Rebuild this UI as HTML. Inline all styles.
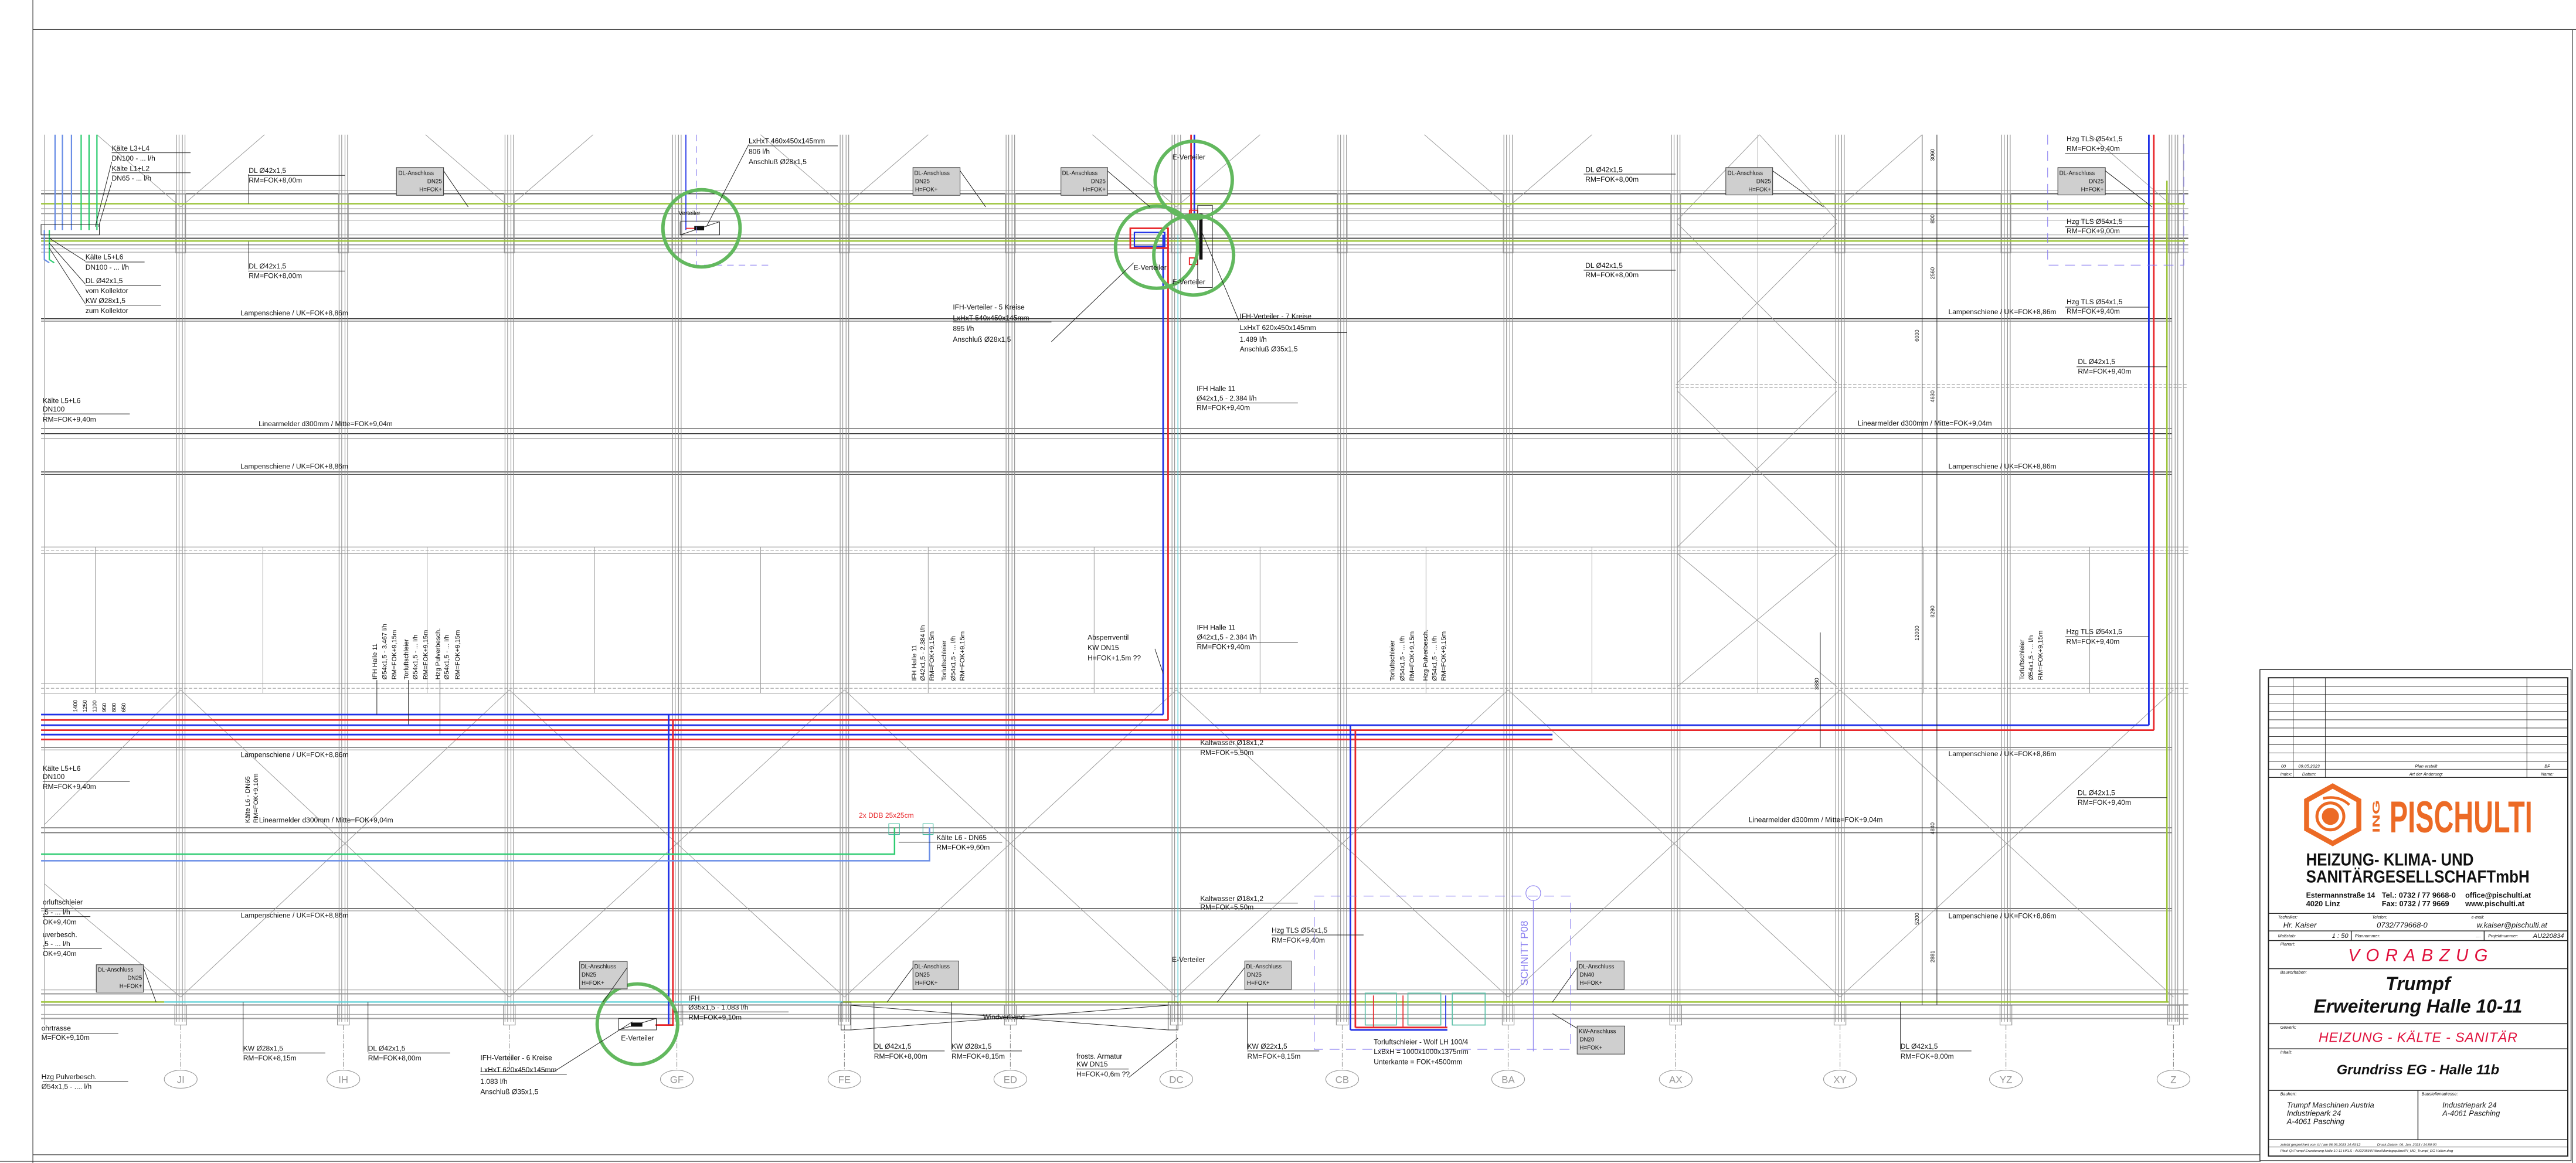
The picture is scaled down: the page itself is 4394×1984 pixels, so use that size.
<!DOCTYPE html>
<html><head><meta charset="utf-8">
<style>
html,body{margin:0;padding:0;background:#fff;width:4394px;height:1984px;overflow:hidden}
svg{display:block}
text{font-family:"Liberation Sans",Arial,sans-serif;fill:#111}
.t{font-size:4.3px}
.s{font-size:3.6px}
.ti{font-size:2.6px;font-style:italic}
.g{stroke:#a3a3a3;stroke-width:0.4;fill:none}
.k{stroke:#222;stroke-width:0.35;fill:none}
.d{stroke:#9a9a9a;stroke-width:0.35;fill:none}
.box{fill:#cfcfcf;stroke:#333;stroke-width:0.35}
</style></head><body>
<svg width="4394" height="1984" viewBox="0 0 1568 708" preserveAspectRatio="none" xmlns="http://www.w3.org/2000/svg">
<defs>
<g id="col" stroke="#8f8f8f" stroke-width="0.4" fill="none">
<line x1="-2.6" y1="82" x2="-2.6" y2="622"/><line x1="-1" y1="82" x2="-1" y2="622"/>
<line x1="1" y1="82" x2="1" y2="622"/><line x1="2.6" y1="82" x2="2.6" y2="622"/>
<rect x="-3.6" y="612" width="7.2" height="12"/>
<rect x="-3" y="118" width="6" height="36"/>
<line x1="0" y1="624" x2="0" y2="651" stroke-dasharray="3 1 0.6 1"/>
</g>
</defs>
<rect x="0" y="0" width="1568" height="708" fill="#fff"/>
<line x1="20" y1="0" x2="20" y2="708" stroke="#333" stroke-width="0.4"/>
<line x1="20" y1="18" x2="1568" y2="18" stroke="#333" stroke-width="0.4"/>
<line x1="20" y1="703" x2="1376" y2="703" stroke="#333" stroke-width="0.4"/>
<line x1="0" y1="707" x2="1376" y2="707" stroke="#333" stroke-width="0.3"/>
<line x1="1566" y1="18" x2="1566" y2="708" stroke="#333" stroke-width="0.4"/>

<g class="g">
<line x1="25" y1="116" x2="1332" y2="116"/><line x1="25" y1="127" x2="1332" y2="127"/>
<line x1="25" y1="130" x2="1332" y2="130" stroke-width="0.8"/><line x1="25" y1="134" x2="1332" y2="134"/>
<line x1="25" y1="143" x2="1332" y2="143"/><line x1="25" y1="149" x2="1332" y2="149" stroke-width="0.8"/>
<line x1="25" y1="151.5" x2="1332" y2="151.5"/><line x1="25" y1="153.5" x2="1332" y2="153.5"/>
<line x1="25" y1="333" x2="1332" y2="333"/><line x1="25" y1="335" x2="1332" y2="335" stroke-dasharray="2 1"/><line x1="25" y1="337" x2="1332" y2="337"/>
<line x1="25" y1="416" x2="1332" y2="416"/><line x1="25" y1="419" x2="1332" y2="419" stroke-dasharray="2 1"/><line x1="25" y1="422" x2="1332" y2="422"/>
<line x1="25" y1="602.6" x2="1332" y2="602.6"/><line x1="25" y1="605" x2="1332" y2="605" stroke-width="0.8"/>
<line x1="25" y1="617.5" x2="1332" y2="617.5"/><line x1="25" y1="620" x2="1332" y2="620" stroke-width="0.8"/>
<line x1="1020" y1="234" x2="1332" y2="234" stroke-dasharray="2 1"/><line x1="1020" y1="236" x2="1332" y2="236" stroke-dasharray="2 1"/>
</g>
<g class="d">
<line x1="58" y1="333" x2="58" y2="422"/><line x1="160" y1="333" x2="160" y2="422"/><line x1="260" y1="333" x2="260" y2="422"/><line x1="362" y1="333" x2="362" y2="422"/>
<line x1="463" y1="333" x2="463" y2="422"/><line x1="565" y1="333" x2="565" y2="422"/><line x1="666" y1="333" x2="666" y2="422"/><line x1="767" y1="333" x2="767" y2="422"/>
<line x1="868" y1="333" x2="868" y2="422"/><line x1="969" y1="333" x2="969" y2="422"/><line x1="1070" y1="82" x2="1070" y2="422"/><line x1="1171" y1="333" x2="1171" y2="422"/><line x1="1272" y1="333" x2="1272" y2="422"/>
</g>
<g class="k">
<line x1="25" y1="118" x2="1332" y2="118" stroke-width="0.5"/>
<line x1="25" y1="145" x2="1332" y2="145" stroke-width="0.5"/>
<line x1="25" y1="194" x2="1322" y2="194" stroke-width="0.5"/><line x1="25" y1="195.5" x2="1322" y2="195.5"/>
<line x1="25" y1="261" x2="1322" y2="261"/><line x1="25" y1="264" x2="1322" y2="264" stroke-width="0.5"/><line x1="25" y1="267" x2="1322" y2="267" stroke="#888"/>
<line x1="25" y1="287.3" x2="1322" y2="287.3" stroke-width="0.5"/><line x1="25" y1="288.8" x2="1322" y2="288.8"/>
<line x1="25" y1="455" x2="1322" y2="455"/><line x1="25" y1="456.5" x2="1322" y2="456.5" stroke="#888"/>
<line x1="25" y1="504" x2="1322" y2="504" stroke-width="0.5"/><line x1="25" y1="507" x2="1322" y2="507"/>
<line x1="25" y1="553" x2="1322" y2="553"/><line x1="25" y1="554.5" x2="1322" y2="554.5" stroke="#888"/>
<line x1="25" y1="611.8" x2="1332" y2="611.8" stroke-width="0.5"/>
</g>

<use href="#col" x="110"/><use href="#col" x="209"/><use href="#col" x="310"/><use href="#col" x="412"/>
<use href="#col" x="514"/><use href="#col" x="615"/><use href="#col" x="716"/><use href="#col" x="817"/>
<use href="#col" x="918"/><use href="#col" x="1020"/><use href="#col" x="1120"/><use href="#col" x="1221"/><use href="#col" x="1323"/>
<line x1="1329" y1="82" x2="1329" y2="624" class="g"/><line x1="27" y1="82" x2="27" y2="624" class="g"/>

<g class="d">
<line x1="110" y1="420" x2="310" y2="607"/><line x1="310" y1="420" x2="110" y2="607"/>
<line x1="310" y1="420" x2="514" y2="607"/><line x1="514" y1="420" x2="310" y2="607"/>
<line x1="514" y1="420" x2="716" y2="607"/><line x1="716" y1="420" x2="514" y2="607"/>
<line x1="716" y1="420" x2="918" y2="607"/><line x1="918" y1="420" x2="716" y2="607"/>
<line x1="918" y1="420" x2="1120" y2="607"/><line x1="1120" y1="420" x2="918" y2="607"/>
<line x1="1120" y1="420" x2="1323" y2="607"/><line x1="1323" y1="420" x2="1120" y2="607"/>
<line x1="110" y1="420" x2="27" y2="502"/><line x1="110" y1="607" x2="27" y2="538"/>
<line x1="59" y1="82" x2="110" y2="126"/><line x1="161" y1="82" x2="110" y2="126"/>
<line x1="259" y1="82" x2="310" y2="126"/><line x1="361" y1="82" x2="310" y2="126"/>
<line x1="463" y1="82" x2="514" y2="126"/><line x1="565" y1="82" x2="514" y2="126"/>
<line x1="665" y1="82" x2="716" y2="126"/><line x1="767" y1="82" x2="716" y2="126"/>
<line x1="867" y1="82" x2="918" y2="126"/><line x1="969" y1="82" x2="918" y2="126"/>
<line x1="1170" y1="82" x2="1120" y2="126"/><line x1="1272" y1="82" x2="1323" y2="126"/>
<line x1="1071" y1="82" x2="1021" y2="134"/><line x1="1071" y1="82" x2="1118" y2="134"/>
<line x1="1021" y1="136" x2="1118" y2="233"/><line x1="1118" y1="136" x2="1021" y2="233"/>
<line x1="1021" y1="238" x2="1118" y2="333"/><line x1="1118" y1="238" x2="1021" y2="333"/>
<line x1="1021" y1="337" x2="1118" y2="418"/><line x1="1118" y1="337" x2="1021" y2="418"/>
</g>

<g stroke="#9cc43a" stroke-width="0.9" fill="none">
<line x1="25" y1="124" x2="1330" y2="124"/>
<line x1="25" y1="146.7" x2="1330" y2="146.7"/>
<line x1="25" y1="610" x2="100" y2="610"/>
<line x1="513" y1="610" x2="1320" y2="610"/>
<line x1="1319" y1="110" x2="1319" y2="610"/>
</g>
<line x1="100" y1="610" x2="513" y2="610" stroke="#5ccfd6" stroke-width="0.8"/>
<line x1="717" y1="143" x2="717" y2="610" stroke="#5ccfd6" stroke-width="0.5"/>

<g stroke-width="0.8" fill="none">
<line x1="33.5" y1="82" x2="33.5" y2="140" stroke="#6a8ee6"/><line x1="38" y1="82" x2="38" y2="140" stroke="#6a8ee6"/><line x1="43.5" y1="82" x2="43.5" y2="140" stroke="#6a8ee6"/>
<line x1="49.4" y1="82" x2="49.4" y2="140" stroke="#2ecc71"/><line x1="54.2" y1="82" x2="54.2" y2="140" stroke="#2ecc71"/><line x1="59" y1="82" x2="59" y2="140" stroke="#2ecc71"/>
<path d="M27 140 L27 158 L30 160" stroke="#6a8ee6"/><path d="M30 140 L30 158 L33 160" stroke="#2ecc71"/>
</g>
<rect x="25" y="136.7" width="35.5" height="6.3" class="k"/>

<g fill="none" stroke-width="1">
<line x1="25" y1="435" x2="708" y2="435" stroke="#1e2fe6"/>
<line x1="25" y1="438.3" x2="711" y2="438.3" stroke="#e8262a"/>
<line x1="25" y1="441.5" x2="1308" y2="441.5" stroke="#1e2fe6"/>
<line x1="25" y1="444.5" x2="1311" y2="444.5" stroke="#e8262a"/>
<line x1="25" y1="447.2" x2="945" y2="447.2" stroke="#1e2fe6"/>
<line x1="25" y1="450.2" x2="945" y2="450.2" stroke="#e8262a"/>
<line x1="708" y1="143" x2="708" y2="435" stroke="#1e2fe6"/>
<line x1="711" y1="146" x2="711" y2="438.3" stroke="#e8262a"/>
<line x1="727" y1="82" x2="727" y2="130" stroke="#1e2fe6"/>
<line x1="725" y1="82" x2="725" y2="130" stroke="#e8262a"/>
<line x1="1308" y1="82" x2="1308" y2="441.5" stroke="#1e2fe6"/>
<line x1="1311" y1="82" x2="1311" y2="444.5" stroke="#e8262a"/>
<line x1="407" y1="435" x2="407" y2="624" stroke="#1e2fe6"/>
<line x1="409.6" y1="438.3" x2="409.6" y2="624.5" stroke="#e8262a"/>
<line x1="399" y1="624" x2="409.6" y2="624" stroke="#e8262a"/>
<line x1="822" y1="441.5" x2="822" y2="627" stroke="#1e2fe6"/>
<line x1="825" y1="444.5" x2="825" y2="625.5" stroke="#e8262a"/>
<line x1="822" y1="627" x2="881" y2="627" stroke="#1e2fe6"/>
<line x1="825" y1="625.5" x2="881" y2="625.5" stroke="#e8262a"/>
</g>
<rect x="688" y="139" width="23" height="12" fill="none" stroke="#e8262a" stroke-width="1"/>
<rect x="690.5" y="141.5" width="18.5" height="8.5" fill="none" stroke="#1e2fe6" stroke-width="0.8"/>
<rect x="730" y="130" width="2" height="28" fill="#111"/>
<rect x="724" y="128" width="5" height="4" fill="none" stroke="#e8262a" stroke-width="0.7"/>
<rect x="724" y="157" width="5" height="4" fill="none" stroke="#e8262a" stroke-width="0.7"/>
<rect x="729" y="125" width="9" height="50" class="k"/>
<line x1="417.5" y1="82" x2="417.5" y2="140" stroke="#1e2fe6" stroke-width="0.6"/>
<line x1="417.5" y1="139" x2="423" y2="139" stroke="#e8262a" stroke-width="0.6"/>
<rect x="414" y="135" width="24" height="8" class="k"/>
<line x1="414" y1="143" x2="438" y2="135" class="k"/>
<rect x="422.6" y="137.6" width="6" height="2.6" fill="#111"/>
<path d="M424 82 L424 161.4 L470 161.4" fill="none" stroke="#8a7ff0" stroke-width="0.4" stroke-dasharray="4 3"/>
<rect x="376.5" y="620" width="23" height="7" class="k"/>
<line x1="376.5" y1="627" x2="399.5" y2="620" class="k"/>
<rect x="384" y="622.5" width="7" height="2.5" fill="#111"/>
<g fill="none" stroke-width="0.9">
<path d="M25 520 L544.5 520 L544.5 503.6" stroke="#2ecc71"/>
<path d="M25 524 L565.8 524 L565.8 503.6" stroke="#6a8ee6"/>
</g>
<rect x="541" y="501.5" width="6.5" height="6.5" fill="none" stroke="#3cb89a" stroke-width="0.4"/>
<rect x="561.8" y="501.5" width="6.2" height="6.5" fill="none" stroke="#3cb89a" stroke-width="0.4"/>
<g fill="none" stroke="#5cc0a8" stroke-width="0.6">
<rect x="831" y="604.6" width="19" height="19.4"/><rect x="857" y="604.6" width="20" height="19.4"/><rect x="884" y="604.6" width="20" height="19.4"/>
</g>
<g stroke-width="0.6"><line x1="836" y1="606" x2="836" y2="625" stroke="#e8262a"/><line x1="854" y1="606" x2="854" y2="625" stroke="#e8262a"/><line x1="880" y1="606" x2="880" y2="625" stroke="#1e2fe6"/></g>
<rect x="800" y="545.5" width="156" height="93.3" fill="none" stroke="#8a7ff0" stroke-width="0.4" stroke-dasharray="6 4"/>
<circle cx="933.3" cy="543.7" r="4.5" fill="none" stroke="#8a7ff0" stroke-width="0.4"/>
<line x1="933.3" y1="548" x2="933.3" y2="640" stroke="#8a7ff0" stroke-width="0.4"/>
<text transform="translate(930,600) rotate(-90)" style="font-size:6.2px;fill:#8a7ff0">SCHNITT P08</text>
<path d="M1246.4 82 L1246.4 161.4 L1329.3 161.4 L1329.3 82" fill="none" stroke="#8a7ff0" stroke-width="0.4" stroke-dasharray="6 4"/>

<g class="k"><rect x="512" y="610" width="6" height="17"/><rect x="711" y="610" width="6" height="17"/>
<line x1="518" y1="612" x2="711" y2="627"/><line x1="518" y1="627" x2="711" y2="612"/></g>

<g class="k" stroke-width="0.3">
<line x1="1170" y1="82" x2="1170" y2="612"/><line x1="1179" y1="82" x2="1179" y2="612"/>
<line x1="1108" y1="385" x2="1108" y2="455"/>
</g>
<g class="s" style="font-size:3.3px">
<text transform="translate(1177.5,98) rotate(-90)">3060</text>
<text transform="translate(1177.5,136) rotate(-90)">800</text>
<text transform="translate(1177.5,170) rotate(-90)">2560</text>
<text transform="translate(1168,208) rotate(-90)">6000</text>
<text transform="translate(1177.5,245) rotate(-90)">4630</text>
<text transform="translate(1177.5,376) rotate(-90)">8290</text>
<text transform="translate(1168,390) rotate(-90)">12000</text>
<text transform="translate(1107,420) rotate(-90)">3880</text>
<text transform="translate(1177.5,508) rotate(-90)">4840</text>
<text transform="translate(1168,563) rotate(-90)">5200</text>
<text transform="translate(1177.5,586) rotate(-90)">2881</text>
<text transform="translate(47,433.5) rotate(-90)">1400</text>
<text transform="translate(52.8,433.5) rotate(-90)">1250</text>
<text transform="translate(58.7,433.5) rotate(-90)">1100</text>
<text transform="translate(64.6,433.5) rotate(-90)">950</text>
<text transform="translate(70.5,433.5) rotate(-90)">800</text>
<text transform="translate(76.4,433.5) rotate(-90)">650</text>
</g>

<g fill="none" stroke="#62b85e" stroke-width="2.1">
<circle cx="427" cy="139" r="23.5"/>
<circle cx="726.6" cy="109.5" r="23.5"/>
<circle cx="704" cy="150.5" r="25"/>
<circle cx="726.6" cy="155.3" r="24.3"/>
<circle cx="388" cy="623.5" r="24.5"/>
</g>

<g>
<rect x="241.3" y="102" width="28.7" height="16.9" class="box"/>
<rect x="555.7" y="102" width="28.7" height="16.9" class="box"/>
<rect x="645.8" y="102" width="28.4" height="16.9" class="box"/>
<rect x="1050.5" y="102" width="28.5" height="16.7" class="box"/>
<rect x="1252.6" y="102" width="28.9" height="16.7" class="box"/>
<rect x="58.6" y="587.3" width="28.7" height="16.7" class="box"/>
<rect x="352.8" y="585.3" width="29" height="16.7" class="box"/>
<rect x="555.7" y="585" width="27.8" height="17.4" class="box"/>
<rect x="757.7" y="585" width="28.3" height="17.4" class="box"/>
<rect x="960" y="585" width="28.6" height="17.4" class="box"/>
<rect x="960" y="624.6" width="29" height="17.1" class="box"/>
</g>
<g class="s" style="font-size:3.5px">
<text x="242.5" y="106.5">DL-Anschluss</text><text x="269" y="111.5" text-anchor="end">DN25</text><text x="269" y="116.5" text-anchor="end">H=FOK+</text>
<text x="556.5" y="106.5">DL-Anschluss</text><text x="557" y="111.5">DN25</text><text x="557" y="116.5">H=FOK+</text>
<text x="646.5" y="106.5">DL-Anschluss</text><text x="673" y="111.5" text-anchor="end">DN25</text><text x="673" y="116.5" text-anchor="end">H=FOK+</text>
<text x="1051.5" y="106.5">DL-Anschluss</text><text x="1078" y="111.5" text-anchor="end">DN25</text><text x="1078" y="116.5" text-anchor="end">H=FOK+</text>
<text x="1253.5" y="106.5">DL-Anschluss</text><text x="1280.5" y="111.5" text-anchor="end">DN25</text><text x="1280.5" y="116.5" text-anchor="end">H=FOK+</text>
<text x="59.5" y="591.5">DL-Anschluss</text><text x="86.5" y="596.5" text-anchor="end">DN25</text><text x="86.5" y="601.5" text-anchor="end">H=FOK+</text>
<text x="353.5" y="589.5">DL-Anschluss</text><text x="354" y="594.5">DN25</text><text x="354" y="599.5">H=FOK+</text>
<text x="556.5" y="589.5">DL-Anschluss</text><text x="557" y="594.5">DN25</text><text x="557" y="599.5">H=FOK+</text>
<text x="758.5" y="589.5">DL-Anschluss</text><text x="759" y="594.5">DN25</text><text x="759" y="599.5">H=FOK+</text>
<text x="961" y="589.5">DL-Anschluss</text><text x="961.5" y="594.5">DN40</text><text x="961.5" y="599.5">H=FOK+</text>
<text x="961" y="629">KW-Anschluss</text><text x="961.5" y="634">DN20</text><text x="961.5" y="639">H=FOK+</text>
</g>
<g class="k" stroke-width="0.3">
<line x1="270" y1="104" x2="285" y2="126"/><line x1="584.4" y1="104" x2="600" y2="126"/><line x1="674" y1="104" x2="700" y2="126"/>
<line x1="1079" y1="104" x2="1110" y2="126"/><line x1="1281.5" y1="104" x2="1310" y2="126"/>
<line x1="87.3" y1="589" x2="95" y2="610"/><line x1="381.8" y1="589" x2="367" y2="610"/><line x1="555.7" y1="589" x2="540" y2="610"/>
<line x1="757.7" y1="589" x2="741" y2="610"/><line x1="960" y1="589" x2="945" y2="610"/><line x1="960" y1="626" x2="945" y2="617"/>
<line x1="68" y1="98.5" x2="58" y2="138"/><line x1="68" y1="111" x2="60" y2="138"/>
<line x1="52" y1="159" x2="30" y2="145"/><line x1="52" y1="173" x2="30" y2="148"/><line x1="52" y1="185" x2="30" y2="151"/>
<line x1="151.4" y1="106" x2="151.4" y2="124"/><line x1="151.4" y1="164" x2="151.4" y2="147"/>
<line x1="455.7" y1="88" x2="430" y2="138"/><line x1="754" y1="195" x2="731" y2="140"/><line x1="640" y1="208" x2="690" y2="160"/>
<line x1="419" y1="616" x2="410" y2="616"/><line x1="292.4" y1="652.5" x2="337" y2="652.5"/><line x1="337" y1="652.5" x2="385" y2="622"/>
<line x1="148" y1="640.5" x2="148" y2="610"/><line x1="224" y1="640.5" x2="224" y2="610"/><line x1="532" y1="639" x2="532" y2="610"/>
<line x1="579.2" y1="639" x2="579.2" y2="610"/><line x1="759.2" y1="639" x2="759.2" y2="610"/><line x1="1156.8" y1="639" x2="1156.8" y2="610"/>
<line x1="687" y1="656" x2="717" y2="632"/><line x1="703" y1="395" x2="708" y2="410"/>
<line x1="229.4" y1="414" x2="229.4" y2="435"/><line x1="248.6" y1="414" x2="248.6" y2="441"/><line x1="267.8" y1="414" x2="267.8" y2="447"/>
</g>
<g class="k" stroke-width="0.3">
<line x1="68" y1="93" x2="116" y2="93"/><line x1="68" y1="105.2" x2="116" y2="105.2"/>
<line x1="151" y1="106.8" x2="210" y2="106.8"/><line x1="151" y1="165" x2="210" y2="165"/>
<line x1="964" y1="106" x2="1020" y2="106"/><line x1="964" y1="164.5" x2="1020" y2="164.5"/>
<line x1="52" y1="159.5" x2="88" y2="159.5"/><line x1="52" y1="173.8" x2="98" y2="173.8"/><line x1="52" y1="185.8" x2="98" y2="185.8"/>
<line x1="26" y1="252" x2="79" y2="252"/><line x1="26" y1="475.7" x2="79" y2="475.7"/>
<line x1="754" y1="202.5" x2="820" y2="202.5"/><line x1="580" y1="196" x2="640" y2="196"/><line x1="455.7" y1="88.8" x2="510" y2="88.8"/>
<line x1="728" y1="245.3" x2="790" y2="245.3"/><line x1="728" y1="391" x2="790" y2="391"/>
<line x1="730" y1="455" x2="790" y2="455"/><line x1="730" y1="549.8" x2="790" y2="549.8"/>
<line x1="774" y1="569.2" x2="830" y2="569.2"/><line x1="570" y1="512.7" x2="610" y2="512.7"/><line x1="547" y1="512.7" x2="570" y2="512.7"/>
<line x1="419" y1="616" x2="480" y2="616"/><line x1="292.4" y1="654" x2="345" y2="654"/>
<line x1="148" y1="641" x2="198" y2="641"/><line x1="224" y1="641" x2="274" y2="641"/><line x1="532" y1="639.8" x2="575" y2="639.8"/>
<line x1="579.2" y1="639.8" x2="622" y2="639.8"/><line x1="759.2" y1="639.8" x2="803" y2="639.8"/><line x1="1156.8" y1="639.8" x2="1200" y2="639.8"/>
<line x1="655" y1="650.8" x2="687" y2="650.8"/>
<line x1="1257" y1="93.5" x2="1308" y2="93.5"/><line x1="1257" y1="138" x2="1308" y2="138"/><line x1="1257" y1="187" x2="1308" y2="187"/>
<line x1="1264" y1="223.3" x2="1319" y2="223.3"/><line x1="1257" y1="387.6" x2="1308" y2="387.6"/><line x1="1264" y1="485.6" x2="1319" y2="485.6"/>
<line x1="26" y1="629" x2="72" y2="629"/><line x1="26" y1="658.5" x2="78" y2="658.5"/>
<line x1="26" y1="558" x2="55" y2="558"/><line x1="26" y1="577.5" x2="62" y2="577.5"/>
</g>

<g class="t">
<text x="68" y="91.7">Kälte L3+L4</text><text x="68" y="97.8">DN100 - ... l/h</text>
<text x="68" y="104">Kälte L1+L2</text><text x="68" y="110">DN65 - ... l/h</text>
<text x="151.4" y="105.3">DL Ø42x1,5</text><text x="151.4" y="111.2">RM=FOK+8,00m</text>
<text x="52" y="158">Kälte L5+L6</text><text x="52" y="164.2">DN100 - ... l/h</text>
<text x="52" y="172.4">DL Ø42x1,5</text><text x="52" y="178.5">vom Kollektor</text>
<text x="52" y="184.5">KW Ø28x1,5</text><text x="52" y="190.6">zum Kollektor</text>
<text x="151.4" y="163.5">DL Ø42x1,5</text><text x="151.4" y="169.4">RM=FOK+8,00m</text>
<text x="146.3" y="192">Lampenschiene / UK=FOK+8,86m</text>
<text x="26" y="245.4">Kälte L5+L6</text><text x="26" y="250.5">DN100</text><text x="26" y="256.7">RM=FOK+9,40m</text>
<text x="157.4" y="259.5">Linearmelder d300mm / Mitte=FOK+9,04m</text>
<text x="146.3" y="285.3">Lampenschiene / UK=FOK+8,86m</text>
<text x="455.7" y="87.3">LxHxT 460x450x145mm</text><text x="455.7" y="93.7">806 l/h</text><text x="455.7" y="100">Anschluß Ø28x1,5</text>
<text x="413" y="131" class="s">Verteiler</text>
<text x="580" y="188.5">IFH-Verteiler - 5 Kreise</text><text x="580" y="195">LxHxT 540x450x145mm</text><text x="580" y="201.5">895 l/h</text><text x="580" y="208">Anschluß Ø28x1,5</text>
<text x="713.6" y="97">E-Verteiler</text><text x="690" y="164.4">E-Verteiler</text><text x="713.6" y="173">E-Verteiler</text>
<text x="754.6" y="194">IFH-Verteiler - 7 Kreise</text><text x="754.6" y="201">LxHxT 620x450x145mm</text><text x="754.6" y="208">1.489 l/h</text><text x="754.6" y="214">Anschluß Ø35x1,5</text>
<text x="728.4" y="238">IFH Halle 11</text><text x="728.4" y="243.9">Ø42x1,5 - 2.384 l/h</text><text x="728.4" y="249.6">RM=FOK+9,40m</text>
<text x="965" y="104.7">DL Ø42x1,5</text><text x="965" y="110.6">RM=FOK+8,00m</text>
<text x="965" y="163">DL Ø42x1,5</text><text x="965" y="168.8">RM=FOK+8,00m</text>
<text x="1257.9" y="86">Hzg TLS Ø54x1,5</text><text x="1257.9" y="91.9">RM=FOK+9,40m</text>
<text x="1257.9" y="136.3">Hzg TLS Ø54x1,5</text><text x="1257.9" y="142">RM=FOK+9,00m</text>
<text x="1186" y="191.3">Lampenschiene / UK=FOK+8,86m</text>
<text x="1257.9" y="185.2">Hzg TLS Ø54x1,5</text><text x="1257.9" y="190.9">RM=FOK+9,40m</text>
<text x="1264.8" y="221.6">DL Ø42x1,5</text><text x="1264.8" y="227.5">RM=FOK+9,40m</text>
<text x="1130.8" y="259">Linearmelder d300mm / Mitte=FOK+9,04m</text>
<text x="1186" y="285.3">Lampenschiene / UK=FOK+8,86m</text>
<text x="662" y="389.5">Absperrventil</text><text x="662" y="395.8">KW DN15</text><text x="662" y="402">H=FOK+1,5m ??</text>
<text x="728.5" y="383.5">IFH Halle 11</text><text x="728.5" y="389.4">Ø42x1,5 - 2.384 l/h</text><text x="728.5" y="395.3">RM=FOK+9,40m</text>
<text x="1257.7" y="386">Hzg TLS Ø54x1,5</text><text x="1257.7" y="392">RM=FOK+9,40m</text>
<text x="730.6" y="453.6">Kaltwasser Ø18x1,2</text><text x="730.6" y="459.6">RM=FOK+5,50m</text>
<text x="146.5" y="460.9">Lampenschiene / UK=FOK+8,86m</text>
<text x="1186" y="460.4">Lampenschiene / UK=FOK+8,86m</text>
<text x="26" y="469.3">Kälte L5+L6</text><text x="26" y="474.2">DN100</text><text x="26" y="480.4">RM=FOK+9,40m</text>
<text x="1264.7" y="484">DL Ø42x1,5</text><text x="1264.7" y="490">RM=FOK+9,40m</text>
<text x="157.7" y="500.7">Linearmelder d300mm / Mitte=FOK+9,04m</text>
<text x="1064.4" y="500.5">Linearmelder d300mm / Mitte=FOK+9,04m</text>
<text x="522.8" y="497.8" style="fill:#e8262a">2x DDB 25x25cm</text>
<text x="570" y="511.3">Kälte L6 - DN65</text><text x="570" y="517.3">RM=FOK+9,60m</text>
<text x="730.6" y="548.4">Kaltwasser Ø18x1,2</text><text x="730.6" y="553.7">RM=FOK+5,50m</text>
<text x="146.5" y="558.6">Lampenschiene / UK=FOK+8,86m</text>
<text x="1186" y="559">Lampenschiene / UK=FOK+8,86m</text>
<text x="26" y="550.7">orluftschleier</text><text x="26" y="556.7">,5 - ... l/h</text><text x="26" y="562.7">OK+9,40m</text>
<text x="26" y="570.5">uverbesch.</text><text x="26" y="576">,5 - ... l/h</text><text x="26" y="582">OK+9,40m</text>
<text x="774" y="567.7">Hzg TLS Ø54x1,5</text><text x="774" y="573.8">RM=FOK+9,40m</text>
<text x="713.4" y="585.6">E-Verteiler</text>
<text x="419" y="609.2">IFH</text><text x="419" y="614.7">Ø35x1,5 - 1.083 l/h</text><text x="419" y="620.7">RM=FOK+9,10m</text>
<text x="598.5" y="620.6">Windverband</text>
<text x="25.2" y="627.3">ohrtrasse</text><text x="25.2" y="633">M=FOK+9,10m</text>
<text x="378" y="633.5">E-Verteiler</text>
<text x="148" y="639.6">KW Ø28x1,5</text><text x="148" y="645.5">RM=FOK+8,15m</text>
<text x="224" y="639.6">DL Ø42x1,5</text><text x="224" y="645.5">RM=FOK+8,00m</text>
<text x="292.4" y="645.3">IFH-Verteiler - 6 Kreise</text><text x="292.4" y="652.7">LxHxT 620x450x145mm</text><text x="292.4" y="659.8">1.083 l/h</text><text x="292.4" y="666">Anschluß Ø35x1,5</text>
<text x="532" y="638.4">DL Ø42x1,5</text><text x="532" y="644.4">RM=FOK+8,00m</text>
<text x="579.2" y="638.4">KW Ø28x1,5</text><text x="579.2" y="644.4">RM=FOK+8,15m</text>
<text x="655.2" y="644.4">frosts. Armatur</text><text x="655.2" y="649.3">KW DN15</text><text x="655.2" y="655.3">H=FOK+0,6m ??</text>
<text x="759.2" y="638.4">KW Ø22x1,5</text><text x="759.2" y="644.4">RM=FOK+8,15m</text>
<text x="836.2" y="635.7">Torluftschleier - Wolf LH 100/4</text><text x="836.2" y="641.7">LxBxH = 1000x1000x1375mm</text><text x="836.2" y="647.8">Unterkante = FOK+4500mm</text>
<text x="1156.8" y="638.5">DL Ø42x1,5</text><text x="1156.8" y="644.5">RM=FOK+8,00m</text>
<text x="25.2" y="656.9">Hzg Pulverbesch.</text><text x="25.2" y="662.8">Ø54x1,5 - .... l/h</text>
</g>
<g class="t" style="font-size:4px">
<text transform="translate(152,501) rotate(-90)">Kälte L6 - DN65</text>
<text transform="translate(157,501) rotate(-90)">RM=FOK+9,10m</text>
<text transform="translate(229.4,413.7) rotate(-90)">IFH Halle 11</text>
<text transform="translate(235.4,413.7) rotate(-90)">Ø54x1,5 - 3.467 l/h</text>
<text transform="translate(241.2,413.7) rotate(-90)">RM=FOK+9,15m</text>
<text transform="translate(248.6,413.7) rotate(-90)">Torluftschleier</text>
<text transform="translate(254,413.7) rotate(-90)">Ø54x1,5 - ... l/h</text>
<text transform="translate(260.4,413.7) rotate(-90)">RM=FOK+9,15m</text>
<text transform="translate(267.8,413.7) rotate(-90)">Hzg Pulverbesch.</text>
<text transform="translate(273.2,413.7) rotate(-90)">Ø54x1,5 - ... l/h</text>
<text transform="translate(279.7,413.7) rotate(-90)">RM=FOK+9,15m</text>
<text transform="translate(557.7,414.5) rotate(-90)">IFH Halle 11</text>
<text transform="translate(563,414.5) rotate(-90)">Ø42x1,5 - 2.384 l/h</text>
<text transform="translate(568.5,414.5) rotate(-90)">RM=FOK+9,15m</text>
<text transform="translate(576,414.5) rotate(-90)">Torluftschleier</text>
<text transform="translate(581.5,414.5) rotate(-90)">Ø54x1,5 - ... l/h</text>
<text transform="translate(587,414.5) rotate(-90)">RM=FOK+9,15m</text>
<text transform="translate(848.7,414.5) rotate(-90)">Torluftschleier</text>
<text transform="translate(854.8,414.5) rotate(-90)">Ø54x1,5 - ... l/h</text>
<text transform="translate(860.8,414.5) rotate(-90)">RM=FOK+9,15m</text>
<text transform="translate(869,414.5) rotate(-90)">Hzg Pulverbesch.</text>
<text transform="translate(874.5,414.5) rotate(-90)">Ø54x1,5 - ... l/h</text>
<text transform="translate(880,414.5) rotate(-90)">RM=FOK+9,15m</text>
<text transform="translate(1232,414) rotate(-90)">Torluftschleier</text>
<text transform="translate(1237.5,414) rotate(-90)">Ø54x1,5 - ... l/h</text>
<text transform="translate(1243.2,414) rotate(-90)">RM=FOK+9,15m</text>
</g>

<g fill="#fff" stroke="#999" stroke-width="0.4">
<ellipse cx="110" cy="657" rx="10" ry="5.5"/><ellipse cx="209" cy="657" rx="10" ry="5.5"/><ellipse cx="412" cy="657" rx="10" ry="5.5"/>
<ellipse cx="514" cy="657" rx="10" ry="5.5"/><ellipse cx="615" cy="657" rx="10" ry="5.5"/><ellipse cx="716" cy="657" rx="10" ry="5.5"/>
<ellipse cx="817" cy="657" rx="10" ry="5.5"/><ellipse cx="918" cy="657" rx="10" ry="5.5"/><ellipse cx="1020" cy="657" rx="10" ry="5.5"/>
<ellipse cx="1120" cy="657" rx="10" ry="5.5"/><ellipse cx="1221" cy="657" rx="10" ry="5.5"/><ellipse cx="1323" cy="657" rx="10" ry="5.5"/>
</g>
<g style="font-size:6px" text-anchor="middle">
<text x="110" y="659.3" style="fill:#999">JI</text><text x="209" y="659.3" style="fill:#999">IH</text><text x="412" y="659.3" style="fill:#999">GF</text>
<text x="514" y="659.3" style="fill:#999">FE</text><text x="615" y="659.3" style="fill:#999">ED</text><text x="716" y="659.3" style="fill:#999">DC</text>
<text x="817" y="659.3" style="fill:#999">CB</text><text x="918" y="659.3" style="fill:#999">BA</text><text x="1020" y="659.3" style="fill:#999">AX</text>
<text x="1120" y="659.3" style="fill:#999">XY</text><text x="1221" y="659.3" style="fill:#999">YZ</text><text x="1323" y="659.3" style="fill:#999">Z</text>
</g>

<!-- TITLE BLOCK -->
<rect x="1375.6" y="407.6" width="189.4" height="299" fill="#fff" stroke="#222" stroke-width="0.5"/>
<rect x="1380.8" y="412.6" width="182.2" height="291.2" fill="none" stroke="#222" stroke-width="0.7"/>
<g stroke="#222" stroke-width="0.3">
<line x1="1380.8" y1="417.8" x2="1563" y2="417.8"/><line x1="1380.8" y1="422.8" x2="1563" y2="422.8"/>
<line x1="1380.8" y1="428" x2="1563" y2="428"/><line x1="1380.8" y1="433" x2="1563" y2="433"/>
<line x1="1380.8" y1="438.2" x2="1563" y2="438.2"/><line x1="1380.8" y1="443.2" x2="1563" y2="443.2"/>
<line x1="1380.8" y1="448.4" x2="1563" y2="448.4"/><line x1="1380.8" y1="453.4" x2="1563" y2="453.4"/>
<line x1="1380.8" y1="458.4" x2="1563" y2="458.4"/><line x1="1380.8" y1="463.5" x2="1563" y2="463.5"/>
<line x1="1380.8" y1="468.3" x2="1563" y2="468.3"/>
<line x1="1395.8" y1="412.6" x2="1395.8" y2="473.3"/><line x1="1415.4" y1="412.6" x2="1415.4" y2="473.3"/><line x1="1538.1" y1="412.6" x2="1538.1" y2="473.3"/>
</g>
<g stroke="#222" stroke-width="0.5">
<line x1="1380.8" y1="473.3" x2="1563" y2="473.3"/>
<line x1="1380.8" y1="556.1" x2="1563" y2="556.1"/>
<line x1="1380.8" y1="566.7" x2="1563" y2="566.7"/>
<line x1="1380.8" y1="572.6" x2="1563" y2="572.6"/>
<line x1="1380.8" y1="589.7" x2="1563" y2="589.7"/>
<line x1="1380.8" y1="623.2" x2="1563" y2="623.2"/>
<line x1="1380.8" y1="638.5" x2="1563" y2="638.5"/>
<line x1="1380.8" y1="663.8" x2="1563" y2="663.8"/>
<line x1="1380.8" y1="693.8" x2="1563" y2="693.8"/>
<line x1="1471.8" y1="663.8" x2="1471.8" y2="693.8"/>
<line x1="1431.2" y1="566.7" x2="1431.2" y2="572.6"/><line x1="1512.1" y1="566.7" x2="1512.1" y2="572.6"/>
</g>
<g class="ti">
<text x="1388.5" y="467.3">00</text><text x="1405.5" y="467.3" text-anchor="middle">09.05.2023</text>
<text x="1476.8" y="467.3" text-anchor="middle">Plan erstellt</text><text x="1550.5" y="467.3" text-anchor="middle">BF</text>
<text x="1388" y="472.2">Index:</text><text x="1405.5" y="472.2" text-anchor="middle">Datum:</text>
<text x="1476.8" y="472.2" text-anchor="middle">Art der Änderung:</text><text x="1550.5" y="472.2" text-anchor="middle">Name:</text>
</g>
<polygon points="1419.9,478.5 1435.8,487.3 1435.8,504.7 1419.9,513.5 1404,504.7 1404,487.3" fill="none" stroke="#ec6a25" stroke-width="3"/>
<circle cx="1418.5" cy="497" r="8.2" fill="none" stroke="#ec6a25" stroke-width="1.8"/>
<circle cx="1418.5" cy="497" r="5.2" fill="#ec6a25"/>
<path d="M1414 486 Q1424 484 1430 490" fill="none" stroke="#ec6a25" stroke-width="1.6"/>
<text transform="translate(1448.5,507) rotate(-90)" style="font-size:6.3px;font-weight:bold;fill:#ec6a25" textLength="20" lengthAdjust="spacingAndGlyphs">ING</text>
<text x="1454.5" y="506.8" style="font-size:27px;font-weight:bold;fill:#ec6a25" textLength="87" lengthAdjust="spacingAndGlyphs">PISCHULTI</text>
<text x="1403.7" y="526.9" style="font-size:10.5px;font-weight:bold" textLength="102" lengthAdjust="spacingAndGlyphs">HEIZUNG- KLIMA- UND</text>
<text x="1403.7" y="537.2" style="font-size:10.5px;font-weight:bold" textLength="136" lengthAdjust="spacingAndGlyphs">SANITÄRGESELLSCHAFTmbH</text>
<g style="font-size:4.6px;font-weight:bold">
<text x="1403.7" y="546.5" textLength="42" lengthAdjust="spacingAndGlyphs">Estermannstraße 14</text>
<text x="1403.7" y="551.7">4020 Linz</text>
<text x="1449.8" y="546.5" textLength="45" lengthAdjust="spacingAndGlyphs">Tel.: 0732 / 77 9668-0</text>
<text x="1449.8" y="551.7" textLength="41" lengthAdjust="spacingAndGlyphs">Fax: 0732 / 77 9669</text>
<text x="1500.6" y="546.5" textLength="40" lengthAdjust="spacingAndGlyphs">office@pischulti.at</text>
<text x="1500.6" y="551.7" textLength="36" lengthAdjust="spacingAndGlyphs">www.pischulti.at</text>
</g>
<g class="ti">
<text x="1386.6" y="559.2">Techniker:</text><text x="1443.9" y="559.2">Telefon:</text><text x="1504.3" y="559.2">e-mail:</text>
<text x="1386.6" y="570.6">Maßstab:</text><text x="1433.4" y="570.6">Plannummer:</text><text x="1510" y="570.6" text-anchor="end">....</text>
<text x="1514.5" y="570.6">Projektnummer:</text>
<text x="1388" y="575.6">Planart:</text>
<text x="1388" y="592.7">Bauvorhaben:</text>
<text x="1388" y="626.2">Gewerk:</text>
<text x="1388" y="641.5">Inhalt:</text>
<text x="1388" y="666.8">Bauherr:</text>
<text x="1474" y="666.8">Baustellenadresse:</text>
<text x="1388" y="697.4" style="font-size:2.1px">zuletzt gespeichert von: bf / am 06.06.2023 14:43:12</text>
<text x="1447" y="697.4" style="font-size:2.1px">Druck-Datum:  06. Jun. 2023 / 14:50:00</text>
<text x="1388" y="701.3" style="font-size:2.1px">Pfad:   Q:\Trumpf Erweiterung Halle 10-11 HKLS - AU220834\Pläne\Montagepläne\PI_MO_Trumpf_EG Hallen.dwg</text>
</g>
<g style="font-style:italic">
<text x="1389.8" y="564.7" style="font-size:4.6px">Hr. Kaiser</text>
<text x="1446.7" y="564.7" style="font-size:4.6px">0732/779668-0</text>
<text x="1507.5" y="564.7" style="font-size:4.6px">w.kaiser@pischulti.at</text>
<text x="1429.4" y="571" style="font-size:4px" text-anchor="end">1 : 50</text>
<text x="1560.7" y="571" style="font-size:4px" text-anchor="end">AU220834</text>
<text x="1471.8" y="585" text-anchor="middle" style="font-size:10.5px;fill:#e0103c" textLength="85" lengthAdjust="spacing">VORABZUG</text>
<text x="1471.8" y="602.8" text-anchor="middle" style="font-size:11.5px;font-weight:bold">Trumpf</text>
<text x="1471.8" y="616.5" text-anchor="middle" style="font-size:11.5px;font-weight:bold" textLength="127" lengthAdjust="spacingAndGlyphs">Erweiterung Halle 10-11</text>
<text x="1471.8" y="634.3" text-anchor="middle" style="font-size:8.3px;fill:#e0103c" textLength="121" lengthAdjust="spacing">HEIZUNG  -  KÄLTE - SANITÄR</text>
<text x="1471.8" y="654" text-anchor="middle" style="font-size:8.3px;font-weight:bold" textLength="99" lengthAdjust="spacingAndGlyphs">Grundriss EG - Halle 11b</text>
<text x="1392" y="674.3" style="font-size:4.6px">Trumpf Maschinen Austria</text>
<text x="1392" y="679.3" style="font-size:4.6px">Industriepark 24</text>
<text x="1392" y="684.3" style="font-size:4.6px">A-4061 Pasching</text>
<text x="1486.7" y="674.3" style="font-size:4.6px">Industriepark 24</text>
<text x="1486.7" y="679.3" style="font-size:4.6px">A-4061 Pasching</text>
</g>
<line x1="1380.8" y1="698.3" x2="1563" y2="698.3" stroke="#222" stroke-width="0.2"/>
</svg>
</body></html>
